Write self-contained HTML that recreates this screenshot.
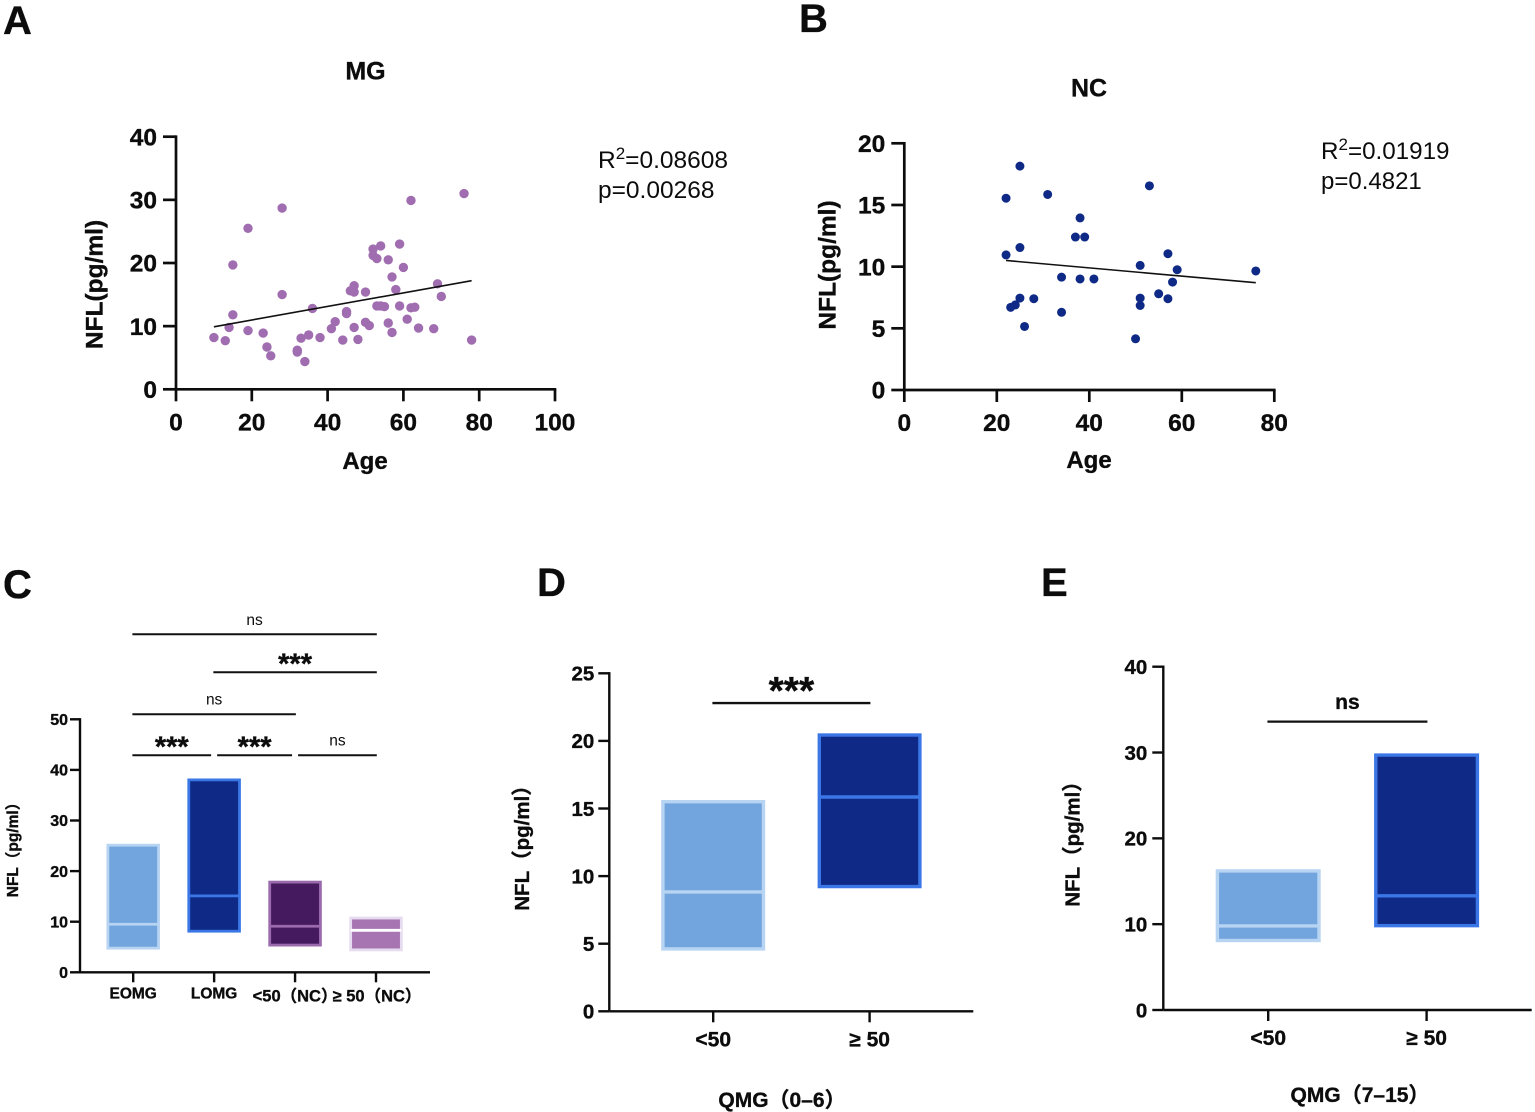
<!DOCTYPE html>
<html lang="en">
<head>
<meta charset="utf-8">
<title>NFL levels by age and QMG group</title>
<style>
html,body{margin:0;padding:0;background:#fff;}
#figure{display:block;width:1535px;height:1112px;background:#fff;}
text{font-family:"Liberation Sans","Noto Sans CJK SC",sans-serif;fill:#0c0c0c;}
.b{font-weight:bold;stroke:#0c0c0c;stroke-width:.35px;}
</style>
</head>
<body>
<svg id="figure" xmlns="http://www.w3.org/2000/svg" width="1535" height="1112" viewBox="0 0 1535 1112">
  <text class="b" x="3" y="34" font-size="40">A</text>
  <text class="b" x="799" y="32" font-size="40">B</text>
  <text class="b" x="3" y="598" font-size="40">C</text>
  <text class="b" x="537" y="596" font-size="40">D</text>
  <text class="b" x="1041" y="596" font-size="40">E</text>

  <text class="b" x="365.5" y="79.5" font-size="25" text-anchor="middle">MG</text>
  <text class="b" x="1089" y="96.5" font-size="25" text-anchor="middle">NC</text>
  <text class="b" x="365" y="469" font-size="24" text-anchor="middle">Age</text>
  <text class="b" x="1089" y="468" font-size="24" text-anchor="middle">Age</text>
  <text class="b" transform="translate(102.5,284.5) rotate(-90)" font-size="24.5" text-anchor="middle">NFL(pg/ml)</text>
  <text class="b" transform="translate(835.5,265) rotate(-90)" font-size="24.5" text-anchor="middle">NFL(pg/ml)</text>

  <text x="598" y="168" font-size="24.5">R<tspan dy="-9" font-size="17">2</tspan><tspan dy="9">=0.08608</tspan></text>
  <text x="598" y="198" font-size="24.5">p=0.00268</text>
  <text x="1321" y="159" font-size="24.2">R<tspan dy="-9" font-size="17">2</tspan><tspan dy="9">=0.01919</tspan></text>
  <text x="1321" y="189" font-size="24">p=0.4821</text>

  <text class="b" transform="translate(18,846) rotate(-90)" font-size="15.5" text-anchor="middle">NFL（pg/ml）</text>
  <text class="b" transform="translate(529,843) rotate(-90)" font-size="20.5" text-anchor="middle">NFL（pg/ml）</text>
  <text class="b" transform="translate(1079.5,839) rotate(-90)" font-size="20.5" text-anchor="middle">NFL（pg/ml）</text>
  <text class="b" x="782" y="1107" font-size="21" text-anchor="middle">QMG（0–6）</text>
  <text class="b" x="1360" y="1102" font-size="21" text-anchor="middle">QMG（7–15）</text>
</svg>
<script>
const mgAges = [10,13,14,15,15,19,19,23,24,25,28,28,32,32,33,34,35,36,38,41,42,44,45,45,46,47,47,47,48,50,50,51,52,52,53,53,54,54,55,56,56,57,57,58,59,59,60,61,62,62,63,64,68,69,70,76,78];
const mgNfl = [8.2,7.7,9.8,11.8,19.7,25.5,9.3,8.9,6.7,5.3,28.7,15,6.2,5.9,8.1,4.4,8.6,12.8,8.2,9.6,10.7,7.8,12.3,12,15.6,16.4,15.4,9.8,7.9,15.4,10.6,10.1,22.2,21.2,20.7,13.2,22.7,13.2,13.1,20.5,10.5,17.8,9,15.8,23,13.2,19.3,11.1,29.9,12.9,13,9.7,9.6,16.7,14.7,31,7.8];
const mgTrendAges = [10,78];
const mgTrendNfl = [9.9,17.2];
const mgXTicks = [0,20,40,60,80,100];
const mgYTicks = [0,10,20,30,40];

const ncAges = [22,22,23,24,25,25,25,26,28,31,34,34,37,38,38,39,41,50,51,51,51,53,55,57,57,58,59,76];
const ncNfl = [15.55,10.95,6.7,6.9,18.15,11.55,7.45,5.15,7.4,15.85,9.15,6.3,12.4,13.95,9,12.4,9,4.15,10.1,7.45,6.85,16.55,7.8,11.05,7.4,8.75,9.75,9.65];
const ncTrendAges = [22,76];
const ncTrendNfl = [10.5,8.7];
const ncXTicks = [0,20,40,60,80];
const ncYTicks = [0,5,10,15,20];

const cCategories = ['EOMG','LOMG','<50（NC）','≥ 50（NC）'];
const cTop = [25.4,38.3,18.1,11];
const cBottom = [4.5,7.85,5.1,4.15];
const cMedian = [9.5,15.1,9.1,8.3];
const cYTicks = [0,10,20,30,40,50];
const cBracketFrom = [0,1,0,0,1,2];
const cBracketTo = [3,3,2,1,2,3];
const cBracketLevel = [66.8,59.3,51,42.9,42.9,42.9];
const cBracketLabel = ['ns','***','ns','***','***','ns'];

const dCategories = ['<50','≥ 50'];
const dTop = [15.63,20.56];
const dBottom = [4.49,9.1];
const dMedian = [8.83,15.85];
const dYTicks = [0,5,10,15,20,25];
const dBracketFrom = [0];
const dBracketTo = [1];
const dBracketLevel = [22.8];
const dBracketLabel = ['***'];

const eCategories = ['<50','≥ 50'];
const eTop = [16.4,29.9];
const eBottom = [7.9,9.63];
const eMedian = [9.8,13.3];
const eYTicks = [0,10,20,30,40];
const eBracketFrom = [0];
const eBracketTo = [1];
const eBracketLevel = [33.6];
const eBracketLabel = ['ns'];

const SVGNS = 'http://www.w3.org/2000/svg';
const root = document.getElementById('figure');

function linear(d0, d1, r0, r1) {
  return function (v) { return r0 + (v - d0) * (r1 - r0) / (d1 - d0); };
}
function make(parent, tag, props, content) {
  const el = document.createElementNS(SVGNS, tag);
  for (const k in props) el.setAttribute(k, props[k]);
  if (content !== undefined) el.textContent = content;
  parent.appendChild(el);
  return el;
}
function panelGroup(name) {
  const g = make(root, 'g', {});
  
  
  return g;
}
function drawAxes(g, o) {
  const axisY = make(g, 'line', {x1: o.x0, x2: o.x0, y1: o.yTop - o.sw / 2, y2: o.y0, stroke: '#0c0c0c', 'stroke-width': o.sw});
  
  
  const axisX = make(g, 'line', {x1: o.x0, x2: o.xEnd, y1: o.y0, y2: o.y0, stroke: '#0c0c0c', 'stroke-width': o.sw});
  
  
  o.yTicks.forEach(function (t) {
    const y = o.yScale(t);
    const tick = make(g, 'line', {x1: o.x0 - o.tickLen, x2: o.x0, y1: y, y2: y, stroke: '#0c0c0c', 'stroke-width': o.sw});
    
    
    const label = make(g, 'text', {x: o.x0 - o.yLabelGap, y: y + o.fs * 0.355, 'font-size': o.fs, 'text-anchor': 'end', 'class': 'b'}, t);
    
    
  });
  o.xTickPos.forEach(function (x, i) {
    const tick = make(g, 'line', {x1: x, x2: x, y1: o.y0, y2: o.y0 + o.tickLenX, stroke: '#0c0c0c', 'stroke-width': o.sw});
    
    
    const label = make(g, 'text', {x: x + (o.xLabelShift ? o.xLabelShift[i] : 0), y: o.y0 + (o.xLabelDrop ? o.xLabelDrop[i] : o.xLabelY), 'font-size': o.xfsList ? o.xfsList[i] : o.xfs, 'text-anchor': 'middle', 'class': 'b'}, o.xTickLabels[i]);
    
    
  });
}
function drawScatter(name, ages, nfl, trendAges, trendNfl, xTicks, yTicks, frame, color, r) {
  const g = panelGroup(name);
  const xS = linear(xTicks[0], xTicks[xTicks.length - 1], frame.x0, frame.x1);
  const yS = linear(yTicks[0], yTicks[yTicks.length - 1], frame.y0, frame.yTop);
  drawAxes(g, {x0: frame.x0, xEnd: frame.x1 + 1.3, y0: frame.y0, yTop: frame.yTop, sw: 2.7, tickLen: 13, tickLenX: 12, yLabelGap: 19, fs: 24.5, xfs: 24.5,
    yTicks: yTicks, yScale: yS, xTickPos: xTicks.map(xS), xTickLabels: xTicks, xLabelY: 41});
  ages.forEach(function (a, i) {
    const dot = make(g, 'circle', {cx: xS(a), cy: yS(nfl[i]), r: r, fill: color});
    
    
  });
  const trend = make(g, 'line', {x1: xS(trendAges[0]), y1: yS(trendNfl[0]), x2: xS(trendAges[1]), y2: yS(trendNfl[1]), stroke: '#111', 'stroke-width': 1.6});
  
  
}
function drawBoxes(g, top, bottom, median, xPos, yS, width, sw, styles) {
  top.forEach(function (t, i) {
    const yT = yS(t), yB = yS(bottom[i]), s = styles[i];
    const box = make(g, 'rect', {x: xPos[i] - width / 2 + sw / 2, y: yT + sw / 2, width: width - sw, height: yB - yT - sw, fill: s.fill, stroke: s.border, 'stroke-width': sw});
    
    
    const med = make(g, 'line', {x1: xPos[i] - width / 2 + sw / 2, x2: xPos[i] + width / 2 - sw / 2, y1: yS(median[i]), y2: yS(median[i]), stroke: s.median, 'stroke-width': sw});
    
    
  });
}
function drawBrackets(g, from, to, level, labels, xPos, yS, o) {
  from.forEach(function (f, i) {
    const y = yS(level[i]);
    const sharedStart = to.some(function (t, j) { return j !== i && level[j] === level[i] && t === f; });
    const sharedEnd = from.some(function (v, j) { return j !== i && level[j] === level[i] && v === to[i]; });
    const x1 = xPos[f] + (sharedStart ? o.gap : -o.over);
    const x2 = xPos[to[i]] + (sharedEnd ? -o.gap : o.over);
    const line = make(g, 'line', {x1: x1, x2: x2, y1: y, y2: y, stroke: '#111', 'stroke-width': o.sw});
    
    
    const stars = labels[i] === '***';
    const label = make(g, 'text', {
      x: (x1 + x2) / 2,
      y: stars ? y + o.starDrop : y - o.nsRise,
      'font-size': stars ? o.starFs : o.nsFs,
      'text-anchor': 'middle',
      'class': (stars || o.nsBold) ? 'b' : ''
    }, labels[i]);
    
    
  });
}

const lightBlue = {fill: '#72a4dd', border: '#b7d4f2', median: '#b7d4f2'};
const darkBlue = {fill: '#0e2a86', border: '#3a76e5', median: '#3a76e5'};
const darkPurple = {fill: '#451a5e', border: '#9a6aad', median: '#9a6aad'};
const lightPurple = {fill: '#a675b2', border: '#e6dcf0', median: '#ffffff'};

drawScatter('panel-a-mg-scatter', mgAges, mgNfl, mgTrendAges, mgTrendNfl, mgXTicks, mgYTicks,
  {x0: 176, x1: 555, y0: 389.3, yTop: 136.7}, '#a06db0', 4.7);
drawScatter('panel-b-nc-scatter', ncAges, ncNfl, ncTrendAges, ncTrendNfl, ncXTicks, ncYTicks,
  {x0: 904.3, x1: 1274.3, y0: 390, yTop: 143.3}, '#0e2a86', 4.5);

(function () {
  const g = panelGroup('panel-c-group-comparison');
  const yS = linear(0, 50, 972.3, 719.3);
  const xPos = cCategories.map(function (c, i) { return linear(0, 3, 133.2, 376)(i); });
  drawBoxes(g, cTop, cBottom, cMedian, xPos, yS, 53.5, 2.8, [lightBlue, darkBlue, darkPurple, lightPurple]);
  drawAxes(g, {x0: 80, xEnd: 430, y0: 972.3, yTop: 719.3, sw: 2.4, tickLen: 10, tickLenX: 10, yLabelGap: 12, fs: 16, xfs: 15,
    yTicks: cYTicks, yScale: yS, xTickPos: xPos, xTickLabels: cCategories, xLabelY: 26, xLabelShift: [0,0,0,1], xLabelDrop: [26,26,29,29], xfsList: [15.5,15.5,16.5,16.5]});
  drawBrackets(g, cBracketFrom, cBracketTo, cBracketLevel, cBracketLabel, xPos, yS,
    {gap: 3, over: 0.8, sw: 2, starDrop: 1.5, nsRise: 9.5, starFs: 29, nsFs: 15.5, nsBold: false});
})();

(function () {
  const g = panelGroup('panel-d-qmg-0-6');
  const yS = linear(0, 25, 1011.3, 673.3);
  const xPos = dCategories.map(function (c, i) { return linear(0, 1, 713.2, 869.6)(i); });
  drawBoxes(g, dTop, dBottom, dMedian, xPos, yS, 104, 3.4, [lightBlue, darkBlue]);
  drawAxes(g, {x0: 609.3, xEnd: 973.3, y0: 1011.3, yTop: 673.3, sw: 2.4, tickLen: 11, tickLenX: 11, yLabelGap: 15, fs: 20.5, xfs: 21,
    yTicks: dYTicks, yScale: yS, xTickPos: xPos, xTickLabels: dCategories, xLabelY: 35});
  drawBrackets(g, dBracketFrom, dBracketTo, dBracketLevel, dBracketLabel, xPos, yS,
    {gap: 3, over: 0.8, sw: 2.3, starDrop: 1, nsRise: 12, starFs: 39, nsFs: 21, nsBold: true});
})();

(function () {
  const g = panelGroup('panel-e-qmg-7-15');
  const yS = linear(0, 40, 1010, 666.7);
  const xPos = eCategories.map(function (c, i) { return linear(0, 1, 1268.2, 1426.6)(i); });
  drawBoxes(g, eTop, eBottom, eMedian, xPos, yS, 105, 3.4, [lightBlue, darkBlue]);
  drawAxes(g, {x0: 1163.3, xEnd: 1531.7, y0: 1010, yTop: 666.7, sw: 2.4, tickLen: 11, tickLenX: 11, yLabelGap: 16, fs: 20.5, xfs: 21,
    yTicks: eYTicks, yScale: yS, xTickPos: xPos, xTickLabels: eCategories, xLabelY: 35});
  drawBrackets(g, eBracketFrom, eBracketTo, eBracketLevel, eBracketLabel, xPos, yS,
    {gap: 3, over: 0.8, sw: 2.3, starDrop: 1, nsRise: 12.5, starFs: 39, nsFs: 21, nsBold: true});
})();
</script>
</body>
</html>
